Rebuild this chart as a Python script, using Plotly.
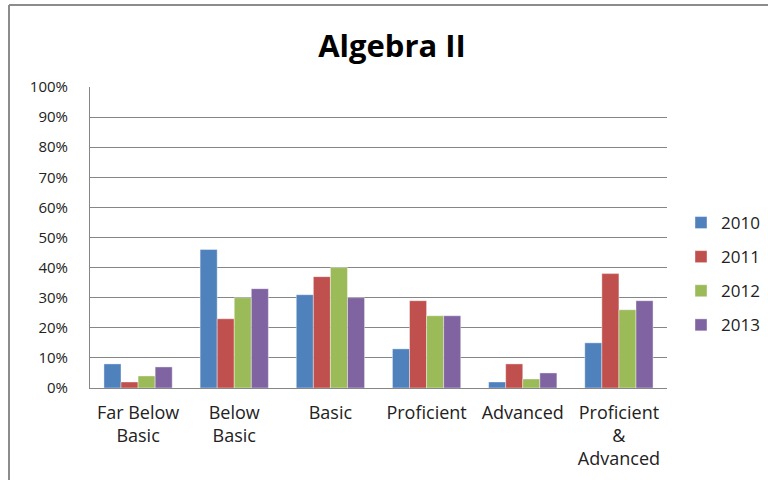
import plotly.graph_objects as go

categories = ["Far Below<br>Basic", "Below<br>Basic", "Basic", "Proficient", "Advanced", "Proficient<br>&<br>Advanced"]
years = ["2010", "2011", "2012", "2013"]
values_2010 = [0.08, 0.46, 0.31, 0.13, 0.02, 0.15]
values_2011 = [0.02, 0.23, 0.37, 0.29, 0.08, 0.38]
values_2012 = [0.04, 0.30, 0.40, 0.24, 0.03, 0.26]
values_2013 = [0.07, 0.33, 0.30, 0.24, 0.05, 0.29]
tick_vals = [i / 10 for i in range(11)]
tick_text = [f"{i * 10}%" for i in range(11)]

series = [values_2010, values_2011, values_2012, values_2013]
colors = ["#4F81BD", "#C0504D", "#9BBB59", "#8064A2"]
font_family = "Open Sans, Lato, DejaVu Sans, sans-serif"

fig = go.Figure()
for name, vals, col in zip(years, series, colors):
    fig.add_trace(go.Bar(
        x=categories, y=vals, name=name, legendgroup=name,
        marker=dict(color=col, line=dict(color="rgba(255,255,255,0.5)", width=0.8)),
    ))

# plot area in pixels: x 90..667, y 87..388
L, R, T, B = 90, 101, 87, 92
pw = 768 - L - R
ph = 480 - T - B

def px_x(p):
    return (p - L) / pw

def px_y(p):
    return (480 - B - p) / ph

fig.update_layout(
    width=768, height=480,
    margin=dict(l=L, r=R, t=T, b=B, autoexpand=False),
    paper_bgcolor="white", plot_bgcolor="white",
    font=dict(family=font_family, size=15, color="#222222"),
    title=dict(text="<b>Algebra II</b>", xref="container", x=392 / 768, xanchor="center",
               yref="container", y=1 - 46 / 480, yanchor="middle",
               font=dict(family=font_family, size=31, color="#000000")),
    barmode="group", bargap=0.29, bargroupgap=0.0,
    showlegend=True,
    legend=dict(x=px_x(681), xanchor="left", y=px_y(274), yanchor="middle",
                font=dict(size=17, color="#222222"), tracegroupgap=9,
                itemwidth=30, bgcolor="rgba(0,0,0,0)"),
    xaxis=dict(showline=True, linecolor="#868686", linewidth=1,
               ticks="", tickfont=dict(size=18), showgrid=False,
               ticklabelstandoff=8),
    yaxis=dict(range=[0, 1], tickvals=tick_vals, ticktext=tick_text,
               showgrid=True, gridcolor="#868686", gridwidth=1,
               showline=True, linecolor="#868686", linewidth=1,
               ticks="", tickfont=dict(size=15), zeroline=False,
               ticklabelstandoff=18),
    shapes=[
        dict(type="line", xref="paper", yref="paper",
             x0=px_x(9), x1=px_x(9), y0=px_y(5), y1=px_y(485),
             line=dict(color="#8c8c8c", width=2)),
        dict(type="line", xref="paper", yref="paper",
             x0=px_x(9), x1=px_x(775), y0=px_y(5), y1=px_y(5),
             line=dict(color="#8c8c8c", width=2)),
    ],
)

fig.write_html("out.html")
